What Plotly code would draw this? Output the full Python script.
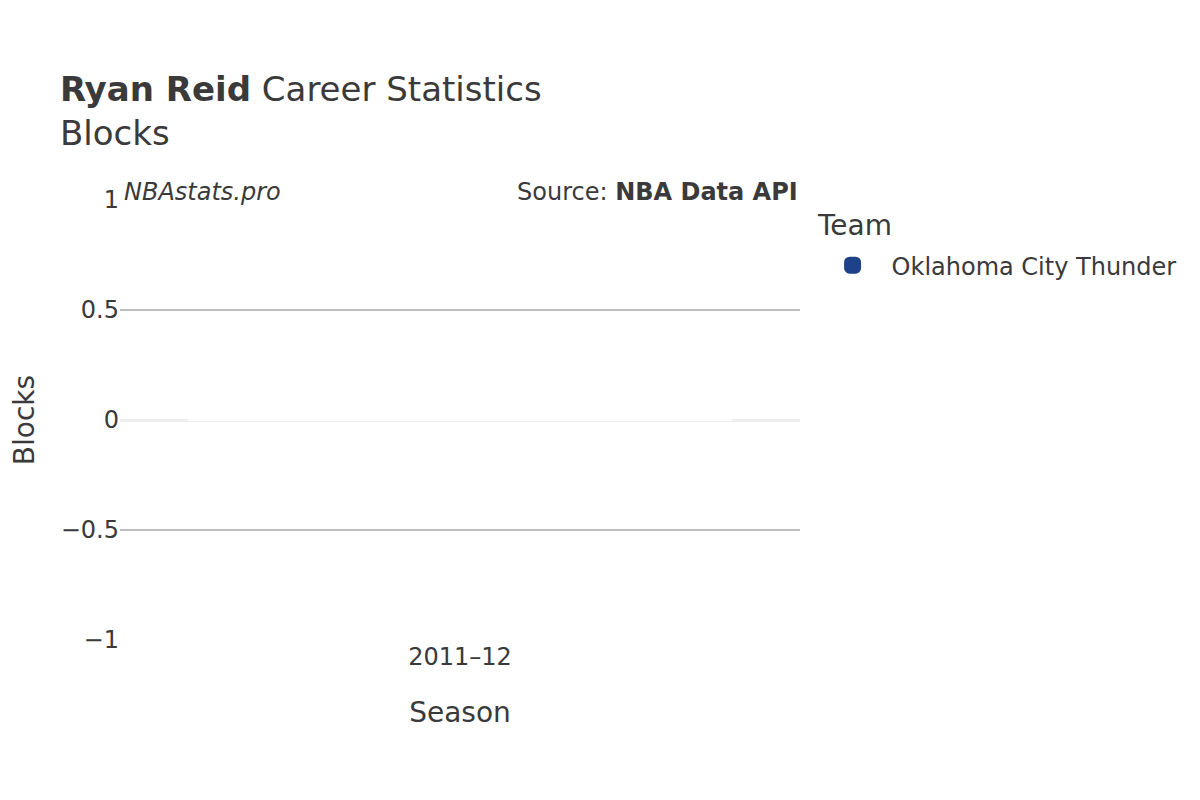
import plotly.graph_objects as go

# data
seasons = ["2011–12"]
team = "Oklahoma City Thunder"
blocks = [0]
team_color = "#1d428a"

fig = go.Figure()

fig.add_trace(go.Bar(
    x=seasons,
    y=blocks,
    name=team,
    legendgroup=team,
    showlegend=False,
    marker=dict(color=team_color, line=dict(color="rgba(255,255,255,0.8)", width=2), cornerradius=4),
))
# legend proxy, so the key gets a bigger rounded swatch
fig.add_trace(go.Bar(
    x=seasons,
    y=[None],
    name=team,
    legendgroup=team,
    showlegend=True,
    marker=dict(color=team_color, line=dict(color=team_color, width=5), cornerradius=4),
    hoverinfo="skip",
))

# paper area is 704px wide, plot starts 24px in so the y title can sit further left
fig.update_layout(
    width=1200,
    height=800,
    font=dict(family="DejaVu Sans", color="#3a3a3a", size=24),
    paper_bgcolor="white",
    plot_bgcolor="white",
    margin=dict(l=88, r=408, t=192, b=168),
    title=dict(
        text="<b>Ryan Reid</b> Career Statistics<br>Blocks",
        x=0.0433, xanchor="left",
        y=0.884, yanchor="bottom",
        font=dict(size=34),
    ),
    xaxis=dict(
        title=dict(text="Season", font=dict(size=28), standoff=32),
        domain=[0.0341, 1],
        showgrid=False,
        zeroline=False,
        tickfont=dict(size=24),
    ),
    yaxis=dict(
        title=dict(text="Blocks", font=dict(size=28), standoff=31),
        automargin=False,
        range=[-1, 1],
        dtick=0.5,
        showgrid=True,
        gridcolor="#bdbdbd",
        gridwidth=2,
        zeroline=True,
        zerolinecolor="#eeeeee",
        zerolinewidth=3,
        tickfont=dict(size=24),
    ),
    legend=dict(
        font=dict(size=24),
        x=1.0193, y=0.902, yanchor="top",
        itemwidth=68,
    ),
    barmode="overlay",
    bargap=0.2,
    showlegend=True,
)

# legend heading
fig.add_annotation(
    text="Team",
    xref="paper", yref="paper",
    x=1.0193, y=0.941, xanchor="left", yanchor="middle",
    xshift=1,
    showarrow=False,
    font=dict(size=28),
)

fig.add_annotation(
    text="<i>NBAstats.pro</i>",
    xref="paper", yref="paper",
    x=0.0341, y=1.0, xanchor="left", yanchor="bottom",
    xshift=2, yshift=-8,
    showarrow=False,
    font=dict(size=24),
)
fig.add_annotation(
    text="Source: <b>NBA Data API</b>",
    xref="paper", yref="paper",
    x=1.0, y=1.0, xanchor="right", yanchor="bottom",
    xshift=0, yshift=-8,
    showarrow=False,
    font=dict(size=24),
)

fig.write_html("out.html")
